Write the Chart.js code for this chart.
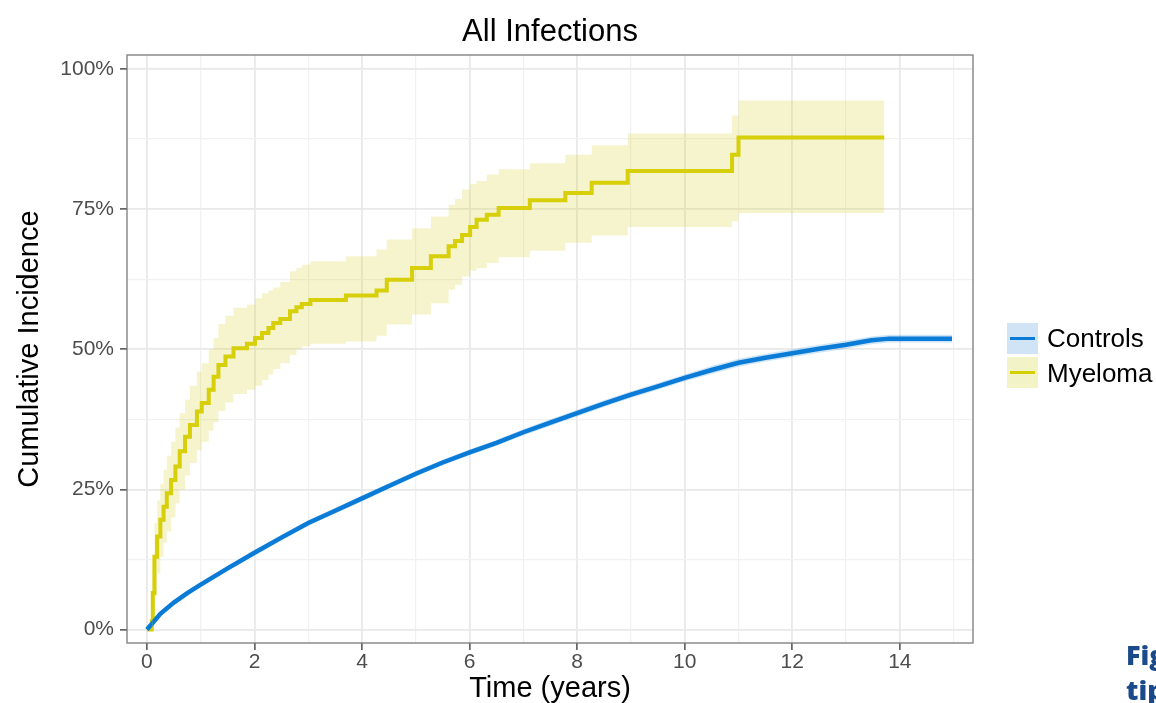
<!DOCTYPE html>
<html>
<head>
<meta charset="utf-8">
<script src="https://cdn.jsdelivr.net/npm/chart.js@4"></script>
<style>
    html, body { margin: 0; padding: 0; background: #fff; }
    body { width: 1156px; height: 703px; overflow: hidden; position: relative; font-family: "Liberation Sans", Arial, sans-serif; }
    #chart { position: absolute; left: 0; top: 0; }
    .key { position: absolute; left: 1007px; width: 31px; height: 31px; }
    .key span { position: absolute; left: 3px; right: 3px; top: 14px; height: 3px; }
    .lab { position: absolute; left: 1047px; font-size: 26px; line-height: 30px; color: #000; }
    .doc { position: absolute; left: 1126px; font-family: "Open Sans", sans-serif; font-weight: 800; font-size: 27px; color: #1b4a8a; white-space: nowrap; }
</style>
</head>
<body>
<canvas id="chart" width="1156" height="703"></canvas>

<div class="key" style="top:323px;background:#d0e4f6"><span style="background:#0a7bd6"></span></div>
<div class="lab" style="top:323px">Controls</div>
<div class="key" style="top:357px;background:#f3f3c8"><span style="background:#d6cf00"></span></div>
<div class="lab" style="top:358px">Myeloma</div>

<div class="doc" style="top:636px">Figure</div>
<div class="doc" style="top:671px">tip</div>

<script>
// years, cumulative incidence (%)
const ctrlTime = [0, 0.09, 0.25, 0.5, 0.75, 1, 1.5, 2, 2.5, 3, 3.5, 4, 4.5, 5, 5.5, 6, 6.5, 7, 7.5, 8, 8.5, 9, 9.5, 10, 10.5, 11, 11.5, 12, 12.5, 13, 13.47, 13.8, 14.97]
const ctrlValue = [0, 1.0, 2.8, 4.8, 6.5, 8.0, 10.9, 13.7, 16.4, 19.0, 21.2, 23.4, 25.6, 27.8, 29.8, 31.6, 33.3, 35.2, 36.9, 38.6, 40.3, 41.9, 43.4, 44.9, 46.3, 47.6, 48.5, 49.3, 50.1, 50.8, 51.6, 51.9, 51.9]
const ctrlLow = [0, 0.8, 2.5, 4.4, 6.1, 7.6, 10.5, 13.2, 15.9, 18.5, 20.7, 22.9, 25.1, 27.3, 29.3, 31.1, 32.8, 34.6, 36.3, 38.0, 39.7, 41.3, 42.8, 44.3, 45.6, 46.9, 47.8, 48.6, 49.4, 50.1, 50.9, 51.2, 51.2]
const ctrlHigh = [0, 1.2, 3.1, 5.2, 6.9, 8.4, 11.3, 14.2, 16.9, 19.5, 21.7, 23.9, 26.1, 28.3, 30.3, 32.1, 33.8, 35.8, 37.5, 39.2, 40.9, 42.5, 44.0, 45.5, 47.0, 48.3, 49.2, 50.0, 50.8, 51.5, 52.3, 52.6, 52.6]

const myeTime = [0, 0.09, 0.11, 0.14, 0.19, 0.25, 0.31, 0.37, 0.45, 0.53, 0.61, 0.71, 0.80, 0.93, 1.02, 1.15, 1.24, 1.33, 1.46, 1.61, 1.86, 2.01, 2.14, 2.26, 2.35, 2.48, 2.66, 2.78, 2.88, 3.04, 3.70, 4.27, 4.46, 4.93, 5.28, 5.61, 5.73, 5.86, 6.01, 6.13, 6.32, 6.54, 7.12, 7.78, 8.27, 8.94, 10.88, 11.0, 13.71]
const myeValue = [0, 1.5, 6.5, 13, 16.6, 19.6, 21.9, 24.3, 26.7, 29.1, 31.8, 34.4, 36.5, 38.9, 40.4, 42.8, 45.1, 47.2, 48.7, 50.2, 51.0, 52.0, 52.9, 53.8, 54.7, 55.4, 56.8, 57.5, 58.1, 58.8, 59.6, 60.5, 62.4, 64.5, 66.6, 68.4, 69.3, 70.4, 71.8, 73.1, 74.0, 75.2, 76.6, 77.9, 79.7, 81.8, 84.7, 87.8, 87.8]
const myeLow = [0, 0, 2, 6, 10, 13, 15.5, 17.5, 20, 22.5, 25, 27.5, 29.7, 32, 33.5, 35.5, 37, 39, 40.5, 42, 42.8, 43.5, 44.5, 45.5, 46.5, 47.5, 49, 50, 50.5, 51, 51.4, 52.4, 54.4, 56.2, 58.2, 60.6, 61.5, 63, 64, 64.5, 65.4, 66.4, 67.6, 69.0, 70.3, 71.8, 72.8, 74.3, 74.3]
const myeHigh = [0, 4, 11, 19, 23, 26, 28.5, 31, 33.5, 36, 38.6, 41, 43.5, 46, 47.5, 50, 52, 54.5, 56, 57.4, 58, 59.1, 60, 60.5, 61, 62, 63.9, 64.5, 65.1, 65.7, 66.6, 67.8, 69.6, 71.6, 73.7, 75.8, 76.8, 78.5, 79.5, 80.0, 81.2, 82.1, 83.2, 84.7, 86.4, 88.5, 91.7, 94.4, 94.4]

const xTicks = [0, 1, 2, 3, 4, 5, 6, 7, 8, 9, 10, 11, 12, 13, 14, 15]
const yTicks = [0, 12.5, 25, 37.5, 50, 62.5, 75, 87.5, 100]

const pts = (xs, ys) => xs.map((x, i) => ({x: x, y: ys[i]}))

const isMajorX = v => v % 2 === 0
const isMajorY = v => v % 25 === 0

const panelBorder = {
    id: 'panelBorder',
    afterDraw(chart) {
        const {ctx, chartArea: a} = chart
        ctx.save()
        ctx.strokeStyle = '#7a7a7a'
        ctx.lineWidth = 1.3
        ctx.strokeRect(a.left, a.top, a.right - a.left, a.bottom - a.top)
        ctx.restore()
    }
}

const band = (data, color, fill, stepped) => ({
    data: data,
    borderWidth: 0,
    borderColor: 'rgba(0,0,0,0)',
    backgroundColor: color,
    pointRadius: 0,
    fill: fill,
    stepped: stepped,
    tension: 0
})

new Chart(document.getElementById('chart').getContext('2d'), {
    type: 'line',
    data: {
        datasets: [
            band(pts(myeTime, myeLow), 'rgba(0,0,0,0)', false, true),
            band(pts(myeTime, myeHigh), 'rgba(214,210,40,0.24)', '-1', true),
            band(pts(ctrlTime, ctrlLow), 'rgba(0,0,0,0)', false, false),
            band(pts(ctrlTime, ctrlHigh), 'rgba(10,123,214,0.2)', '-1', false),
            {
                data: pts(ctrlTime, ctrlValue),
                borderColor: '#0a7bd6',
                borderWidth: 4.5,
                pointRadius: 0,
                fill: false,
                tension: 0
            },
            {
                data: pts(myeTime, myeValue),
                borderColor: '#d6cf00',
                borderWidth: 4,
                pointRadius: 0,
                fill: false,
                stepped: true
            }
        ]
    },
    options: {
        responsive: false,
        animation: false,
        devicePixelRatio: 1,
        layout: {
            padding: {left: 0, right: 183, top: 0, bottom: 0}
        },
        plugins: {
            legend: {display: false},
            tooltip: {enabled: false},
            title: {
                display: true,
                text: 'All Infections',
                fullSize: false,
                color: '#000',
                font: {family: 'Liberation Sans', size: 31, weight: 'normal', lineHeight: 1},
                padding: {top: 17, bottom: 7}
            }
        },
        scales: {
            x: {
                type: 'linear',
                min: -0.37,
                max: 15.36,
                afterBuildTicks: scale => { scale.ticks = xTicks.map(v => ({value: v})) },
                afterFit: scale => { scale.height = 60 },
                border: {display: false},
                grid: {
                    color: c => isMajorX(c.tick.value) ? '#e9e9e9' : '#f1f1f1',
                    lineWidth: c => isMajorX(c.tick.value) ? 1.8 : 1.2,
                    tickColor: c => isMajorX(c.tick.value) ? '#333' : 'rgba(0,0,0,0)',
                    tickLength: 7,
                    tickWidth: 1.3
                },
                ticks: {
                    autoSkip: false,
                    maxRotation: 0,
                    padding: 0,
                    color: '#4d4d4d',
                    font: {family: 'Liberation Sans', size: 21},
                    callback: v => isMajorX(v) ? String(v) : ''
                },
                title: {
                    display: true,
                    text: 'Time (years)',
                    color: '#000',
                    font: {family: 'Liberation Sans', size: 29, lineHeight: 1},
                    padding: {top: 0, bottom: 0}
                }
            },
            y: {
                min: -2.4,
                max: 102.5,
                afterBuildTicks: scale => { scale.ticks = yTicks.map(v => ({value: v})) },
                afterFit: scale => { scale.width = 127 },
                border: {display: false},
                grid: {
                    color: c => isMajorY(c.tick.value) ? '#e9e9e9' : '#f1f1f1',
                    lineWidth: c => isMajorY(c.tick.value) ? 1.8 : 1.2,
                    tickColor: c => isMajorY(c.tick.value) ? '#333' : 'rgba(0,0,0,0)',
                    tickLength: 7,
                    tickWidth: 1.3
                },
                ticks: {
                    autoSkip: false,
                    padding: 6,
                    color: '#4d4d4d',
                    font: {family: 'Liberation Sans', size: 21},
                    callback: v => isMajorY(v) ? v + '%' : ''
                },
                title: {
                    display: true,
                    text: 'Cumulative Incidence',
                    color: '#000',
                    font: {family: 'Liberation Sans', size: 29, lineHeight: 1},
                    padding: {top: 15, bottom: 0}
                }
            }
        }
    },
    plugins: [panelBorder]
})
</script>
</body>
</html>
